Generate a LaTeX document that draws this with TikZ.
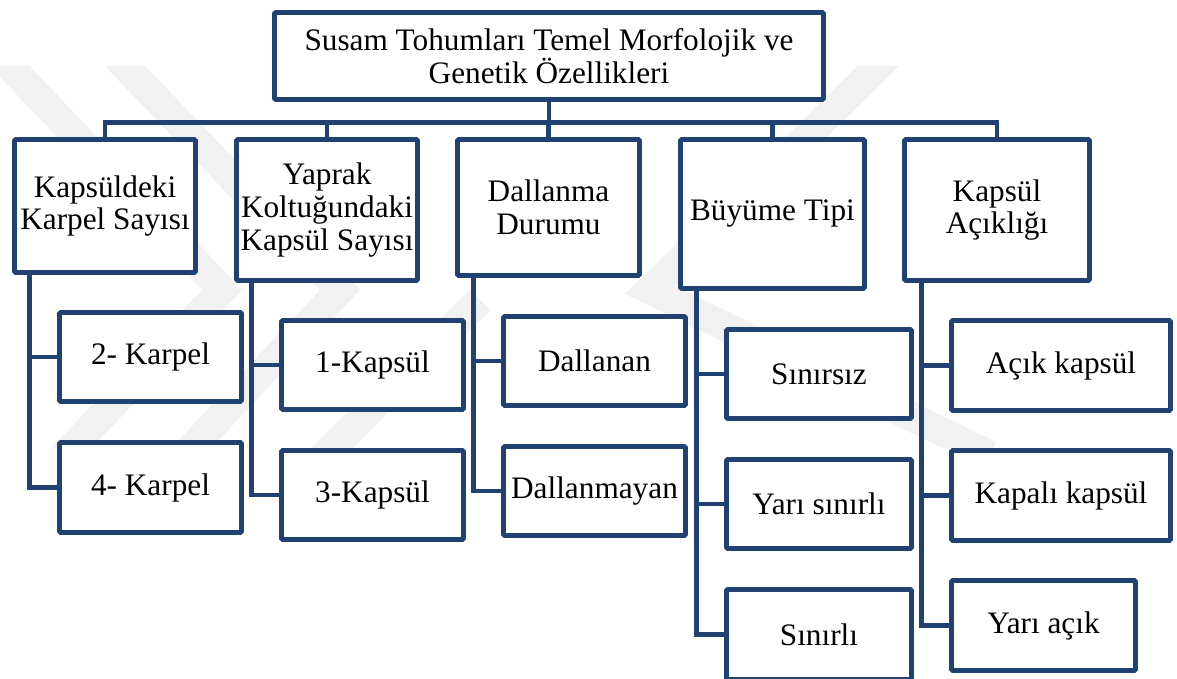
\documentclass[tikz,border=0pt]{standalone}
\usepackage{fontspec}
\setmainfont{Liberation Serif}
\usetikzlibrary{calc}
\definecolor{navy}{RGB}{31,66,115}
\definecolor{wm}{RGB}{241,241,241}
\newcommand\bx[6]{\node[box, minimum width={(#4-#2-5)*0.02cm}, minimum height={(#5-#3-5)*0.02cm}] (#1) at ({(#2+#4)/2},{(#3+#5)/2}) {#6};}
\begin{document}
\begin{tikzpicture}[x=0.02cm,y=-0.02cm,
  box/.style={draw=navy, line width=2.8pt, fill=white, align=center, inner sep=0pt,
    font=\fontsize{17.8}{18.6}\selectfont, rounded corners=0.8pt},
  conn/.style={draw=navy, line width=2.8pt, line join=miter},
  wmark/.style={draw=wm, line width=0.58cm, line join=miter}]
\useasboundingbox (0,0) rectangle (1177,679);
% faint watermark
\begin{scope}
\clip (0,67) rectangle (1177,447);
\draw[wmark] (-15,40) -- (222,290) -- (60,460);
\draw[wmark] (100,40) -- (340,290) -- (180,460);
\draw[wmark] (905,40) -- (650,290) -- (990,455);
\draw[wmark] (320,460) -- (480,300);
\end{scope}
% boxes
\bx{root}{272}{10}{826}{102}{Susam Tohumları Temel Morfolojik ve\\Genetik Özellikleri}
\bx{k1}{12}{137}{198}{275}{Kapsüldeki\\Karpel Sayısı}
\bx{k2}{234}{137}{420}{283}{Yaprak\\Koltuğundaki\\Kapsül Sayısı}
\bx{k3}{455}{137}{642}{278}{Dallanma\\Durumu}
\bx{k4}{678}{137}{867}{291}{Büyüme Tipi}
\bx{k5}{902}{137}{1092}{283}{Kapsül\\Açıklığı}
\bx{a1}{57}{310}{244}{404}{2- Karpel}
\bx{a2}{57}{440}{244}{535}{4- Karpel}
\bx{b1}{279}{318}{466}{412}{1-Kapsül}
\bx{b2}{279}{448}{466}{542}{3-Kapsül}
\bx{c1}{501}{314}{688}{408}{Dallanan}
\bx{c2}{501}{444}{688}{538}{Dallanmayan}
\bx{d1}{724}{327}{914}{421}{Sınırsız}
\bx{d2}{724}{457}{914}{551}{Yarı sınırlı}
\bx{d3}{724}{587}{914}{682}{Sınırlı}
\bx{e1}{949}{318}{1173}{413}{Açık kapsül}
\bx{e2}{949}{448}{1173}{543}{Kapalı kapsül}
\bx{e3}{949}{578}{1138}{673}{Yarı açık}
% top level connectors
\foreach \k in {k1,k2,k3,k4,k5}
  \draw[conn] (root.south) -- ++(0,21) -| (\k.north);
% second level connectors
\foreach \p/\c in {k1/a1,k1/a2,k2/b1,k2/b2,k3/c1,k3/c2,k4/d1,k4/d2,k4/d3,k5/e1,k5/e2,k5/e3}
  \draw[conn] ($(\c.west |- \p.south)+(-28,0)$) |- (\c.west);
\end{tikzpicture}
\end{document}
